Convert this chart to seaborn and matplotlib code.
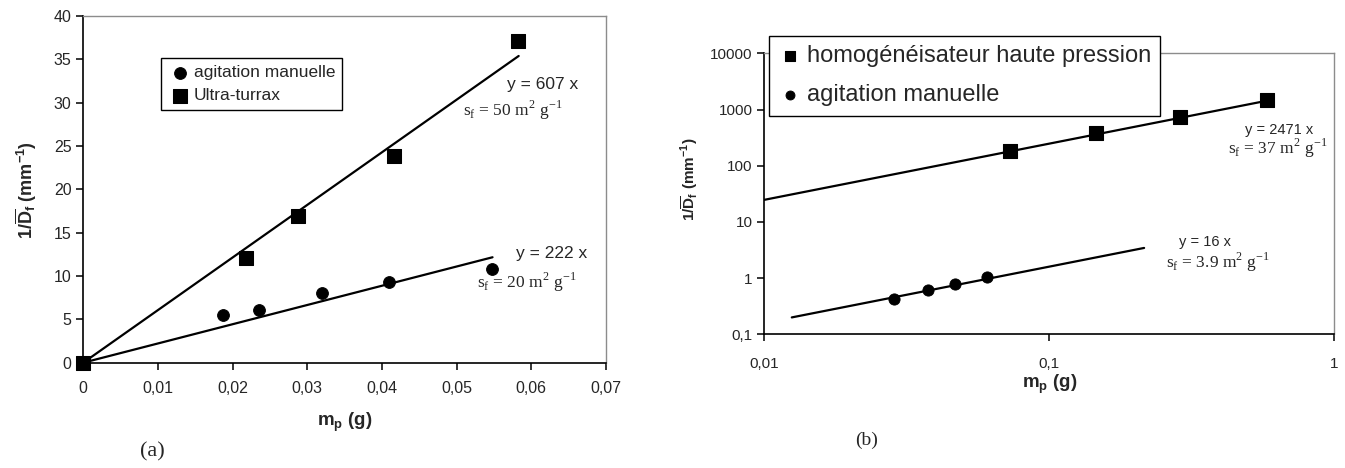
import matplotlib
matplotlib.use("Agg")
import matplotlib.pyplot as plt
import seaborn as sns
import numpy as np
import pandas as pd

# --- données (a) : échelle linéaire
a_manuelle_x = [0.0, 0.0187, 0.0235, 0.0319, 0.0410, 0.0547]
a_manuelle_y = [0.0, 5.5, 6.07, 8.0, 9.35, 10.85]
a_turrax_x = [0.0, 0.0218, 0.0288, 0.0416, 0.0582]
a_turrax_y = [0.0, 12.1, 16.95, 23.8, 37.1]
a_pentes = {"turrax": 607, "manuelle": 222}
a_fit_x = {"turrax": [0.0, 0.0583], "manuelle": [0.0, 0.0548]}
a_xticks = [0, 0.01, 0.02, 0.03, 0.04, 0.05, 0.06, 0.07]
a_xlabels = ["0", "0,01", "0,02", "0,03", "0,04", "0,05", "0,06", "0,07"]
a_yticks = [0, 5, 10, 15, 20, 25, 30, 35, 40]

# --- données (b) : échelle log-log
b_hp_x = [0.0728, 0.1455, 0.288, 0.579]
b_hp_y = [183, 377, 745, 1476]
b_manuelle_x = [0.0286, 0.0374, 0.0465, 0.0604]
b_manuelle_y = [0.425, 0.616, 0.776, 1.06]
b_pentes = {"hp": 2471, "manuelle": 16}
b_fit_x = {"hp": [0.01, 0.579], "manuelle": [0.01248, 0.215]}
b_xticks = [0.01, 0.1, 1]
b_xlabels = ["0,01", "0,1", "1"]
b_yticks = [0.1, 1, 10, 100, 1000, 10000]
b_ylabels = ["0,1", "1", "10", "100", "1000", "10000"]

sns.set_theme(style="white")
plt.rcParams['font.family'] = ['Liberation Sans', 'DejaVu Sans']
plt.rcParams['axes.unicode_minus'] = False

ylabel = r"1/$\overline{\mathregular{D}}_\mathregular{f}$ (mm$^\mathregular{-1}$)"
xlabel = r"m$_\mathregular{p}$ (g)"
serif = ['Liberation Serif', 'DejaVu Serif']


def style_axes(ax, tick_size, xpad):
    for side in ["top", "right"]:
        ax.spines[side].set_color("#8c8c8c")
        ax.spines[side].set_linewidth(1.0)
    for side in ["left", "bottom"]:
        ax.spines[side].set_color("black")
        ax.spines[side].set_linewidth(1.2)
    ax.tick_params(axis="both", which="major", direction="out", length=5,
                   width=1.1, color="black", labelsize=tick_size,
                   bottom=True, left=True, top=False, right=False)
    ax.tick_params(axis="x", which="major", pad=xpad)
    ax.tick_params(axis="both", which="minor", length=0)
    ax.grid(False)


fig = plt.figure(figsize=(13.45, 4.68), dpi=100)

# ================= (a) =================
ax1 = fig.add_axes([0.0619, 0.225, 0.3887, 0.7408])
for key in ["turrax", "manuelle"]:
    fx = np.array(a_fit_x[key])
    sns.lineplot(x=fx, y=a_pentes[key] * fx, ax=ax1, color="black", lw=1.6)
sns.scatterplot(x=a_manuelle_x, y=a_manuelle_y, ax=ax1, marker="o", s=72,
                color="black", edgecolor="black", label="agitation manuelle",
                clip_on=False, zorder=5)
sns.scatterplot(x=a_turrax_x, y=a_turrax_y, ax=ax1, marker="s", s=90,
                color="black", edgecolor="black", label="Ultra-turrax",
                clip_on=False, zorder=5)
ax1.set_xlim(0, 0.07)
ax1.set_ylim(0, 40)
ax1.set_xticks(a_xticks)
ax1.set_xticklabels(a_xlabels)
ax1.set_yticks(a_yticks)
style_axes(ax1, 11.5, 8)
ax1.set_xlabel(xlabel, fontsize=13.5, fontweight="bold")
ax1.xaxis.set_label_coords(0.5, -0.139)
ax1.set_ylabel(ylabel, fontsize=13, fontweight="bold")
ax1.yaxis.set_label_coords(-0.085, 0.498)

h, l = ax1.get_legend_handles_labels()
ax1.legend(h, l, loc="upper left", bbox_to_anchor=(0.1197, 0.876),
           bbox_transform=fig.transFigure, fontsize=12.5, frameon=True,
           fancybox=False, edgecolor="black", framealpha=1,
           borderaxespad=0, handletextpad=0.1, borderpad=0.4,
           labelspacing=0.45, handlelength=1.4).get_frame().set_linewidth(1.0)

ax1.text(0.0567, 32.1, "y = 607 x", fontsize=12.5, va="center")
ax1.text(0.0508, 29.1, r"s$_\mathregular{f}$ = 50 m$^\mathregular{2}$ g$^\mathregular{-1}$",
         fontsize=12.5, va="center", family=serif)
ax1.text(0.0580, 12.65, "y = 222 x", fontsize=12.5, va="center")
ax1.text(0.0527, 9.3, r"s$_\mathregular{f}$ = 20 m$^\mathregular{2}$ g$^\mathregular{-1}$",
         fontsize=12.5, va="center", family=serif)

fig.text(152 / 1345, 1 - 452 / 468, "(a)", fontsize=16, family=serif,
         ha="center", va="center")

# ================= (b) =================
ax2 = fig.add_axes([0.5683, 0.2857, 0.4238, 0.6004])
for key in ["hp", "manuelle"]:
    fx = np.array(b_fit_x[key])
    sns.lineplot(x=fx, y=b_pentes[key] * fx, ax=ax2, color="black", lw=1.6)
sns.scatterplot(x=b_hp_x, y=b_hp_y, ax=ax2, marker="s", s=95,
                color="black", edgecolor="black",
                label="homogénéisateur haute pression", zorder=5)
sns.scatterplot(x=b_manuelle_x, y=b_manuelle_y, ax=ax2, marker="o", s=65,
                color="black", edgecolor="black",
                label="agitation manuelle", zorder=5)
ax2.set_xscale("log")
ax2.set_yscale("log")
ax2.set_xlim(0.01, 1)
ax2.set_ylim(0.1, 10000)
ax2.set_xticks(b_xticks)
ax2.set_xticklabels(b_xlabels)
ax2.set_yticks(b_yticks)
ax2.set_yticklabels(b_ylabels)
style_axes(ax2, 11, 11)
ax2.set_xlabel(xlabel, fontsize=13.5, fontweight="bold")
ax2.xaxis.set_label_coords(0.5, -0.135)
ax2.set_ylabel(ylabel, fontsize=11, fontweight="bold")
ax2.yaxis.set_label_coords(-0.113, 0.553)

h, l = ax2.get_legend_handles_labels()
ax2.legend(h, l, loc="upper left", bbox_to_anchor=(0.5717, 0.923),
           bbox_transform=fig.transFigure, fontsize=17, frameon=True,
           fancybox=False, edgecolor="black", framealpha=1,
           borderaxespad=0, handletextpad=0.2, borderpad=0.4,
           labelspacing=0.72, handlelength=1.0,
           markerscale=0.8).get_frame().set_linewidth(1.0)

ax2.text(0.486, 431, "y = 2471 x", fontsize=10.5, va="center")
ax2.text(0.423, 206, r"s$_\mathregular{f}$ = 37 m$^\mathregular{2}$ g$^\mathregular{-1}$",
         fontsize=12.5, va="center", family=serif)
ax2.text(0.285, 4.39, "y = 16 x", fontsize=10.5, va="center")
ax2.text(0.256, 1.93, r"s$_\mathregular{f}$ = 3.9 m$^\mathregular{2}$ g$^\mathregular{-1}$",
         fontsize=12.5, va="center", family=serif)

fig.text(867 / 1345, 1 - 440 / 468, "(b)", fontsize=14, family=serif,
         ha="center", va="center")

fig.savefig("out.png", dpi=100)
